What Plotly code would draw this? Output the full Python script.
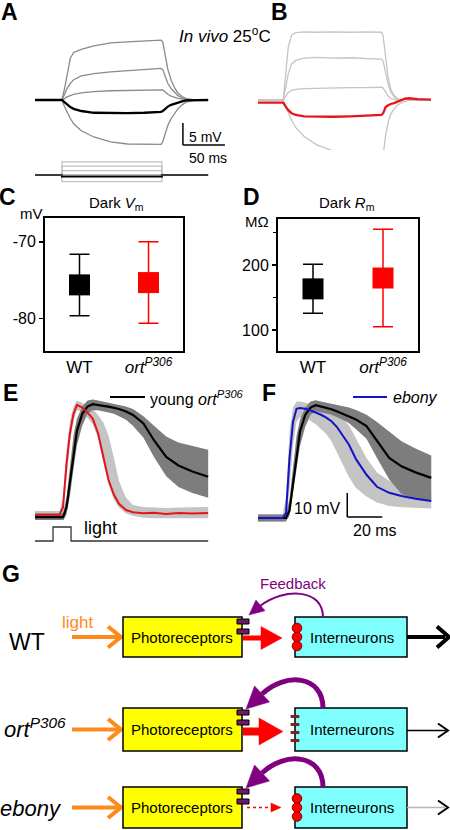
import math
import plotly.graph_objects as go

W, H = 450, 830
FONT = "Arial, Liberation Sans, Helvetica, sans-serif"

# ---------------- data ----------------
# Panel A (mV vs ms), WT
tA = [0, 30, 32, 35, 38, 42, 46, 55, 70, 90, 110, 130, 150, 152, 155, 158, 162, 166, 170, 175, 180, 190, 206]
a_top = [0, 0, 0, 2.5, 5.5, 9.5, 10.8, 11.5, 12.3, 13.0, 13.2, 13.4, 13.6, 13.2, 10.0, 7.0, 4.5, 2.8, 1.6, 0.8, 0.3, 0, 0]
a_mid = [0, 0, 0, 1.2, 2.6, 3.8, 4.6, 5.5, 6.0, 6.4, 6.7, 7.0, 7.2, 6.9, 5.2, 3.8, 2.6, 1.7, 1.0, 0.5, 0.2, 0, 0]
a_low = [0, 0, 0, 0.3, 0.7, 1.0, 1.3, 1.6, 1.9, 2.1, 2.2, 2.3, 2.4, 2.3, 1.8, 1.3, 0.9, 0.6, 0.35, 0.2, 0.1, 0, 0]
a_wt = [0, 0, 0, -0.5, -1.0, -1.6, -2.0, -2.5, -2.9, -3.0, -3.0, -2.9, -2.7, -2.5, -2.0, -1.5, -1.1, -0.8, -0.5, -0.3, -0.1, 0, 0]
a_hyp = [0, 0, 0, -1.5, -2.8, -4.2, -5.4, -7.0, -8.4, -9.5, -10.0, -10.1, -10.1, -9.5, -7.5, -5.8, -4.2, -3.0, -2.0, -1.1, -0.5, -0.1, 0]

# current-step protocol (pA)
stim_t = [0, 32, 32, 151, 151, 206]
stim_levels = [60, 40, 20, -30, -7]

# Panel B (mV vs ms), ort P306
tB = [0, 28, 30, 33, 36, 40, 45, 55, 70, 90, 110, 130, 147, 149, 152, 155, 158, 162, 166, 170, 175, 180, 190, 206]
b_top = [0, 0, 0, 6, 12, 14.8, 15.3, 15.5, 15.4, 15.5, 15.4, 15.5, 15.4, 14.5, 10, 5, 2.5, 1.0, 0.4, 0, 0.3, 0.2, 0.1, 0]
b_mid = [0, 0, 0, 3, 6, 8.2, 9.0, 9.5, 9.7, 9.5, 9.6, 9.4, 9.3, 8.8, 6.2, 3.5, 1.8, 0.7, 0.2, 0, 0.2, 0.1, 0, 0]
b_low = [0, 0, 0, 0.8, 1.7, 2.2, 2.4, 2.6, 2.7, 2.7, 2.8, 2.8, 2.9, 2.7, 1.8, 0.9, 0.4, 0.1, 0, 0, 0.2, 0.1, 0, 0]
b_ort = [-0.6, -0.5, -0.6, -1.5, -2.3, -3.0, -3.4, -3.7, -3.8, -3.8, -3.7, -3.6, -3.4, -3.0, -1.6, -1.2, -0.9, -0.7, -0.4, 0, 0.3, 0.4, 0.2, 0.1]
b_hyp = [0, 0, 0, -1.5, -3.0, -4.6, -6.3, -8.3, -10.2, -11.6, -12.4, -12.8, -12.9, -12.5, -8.0, -5.0, -3.2, -2.0, -1.2, -0.7, -0.3, -0.1, 0, 0]

# Panels C, D
groups = [0, 1]
group_labels = ["WT", "<i>ort<sup>P306</sup></i>"]
vm_mean = [-75.6, -75.3]
vm_sd = [4.0, 5.3]
rm_mean = [163.3, 180.0]
rm_sd = [37.7, 75.0]

# Panel E / F (mV vs ms)
tE = [0, 14, 16, 18, 20, 22, 24, 27, 30, 33, 36, 39, 42, 45, 48, 52, 56, 62, 68, 75, 82, 90, 99]
e_ort = [1.0, 1.0, 4, 22, 35, 43, 46.7, 45.6, 43.5, 41, 35, 25, 15.5, 9.5, 5.5, 2.9, 2.0, 1.6, 1.8, 1.3, 1.7, 1.5, 1.7]
e_ort_hi = [2.5, 2.5, 8, 28, 40, 46, 48.5, 47.5, 46.5, 45, 42.5, 39.5, 34, 25, 15, 8, 5, 4.2, 4, 3.8, 4, 4, 4.2]
e_ort_lo = [-0.8, -0.8, 1, 16, 31, 40, 44.5, 44, 41.5, 38.5, 33, 23, 13.5, 7.5, 4, 1.5, 0.5, -0.3, -0.5, -0.8, -0.5, -0.5, -0.5]
e_wt = [0, 0, 0, 4, 15, 27, 36, 43, 46, 47, 46.8, 46.3, 46, 45.5, 45, 44, 42.5, 39, 32, 25, 21.5, 19, 16.8]
e_wt_hi = [1.5, 1.5, 1.5, 8, 22, 34, 41, 46, 48.5, 49, 48.5, 48, 47.5, 47, 46.5, 46, 45, 42, 38, 33.5, 31, 29.5, 28]
e_wt_lo = [-1.5, -1.5, -1.5, 1, 9, 20, 30, 38, 43, 44.5, 44.5, 44, 43.5, 43, 42, 40.5, 38, 33, 25, 17, 12.5, 10, 8]

f_ebony = [0, 0, 2, 25, 40, 45.5, 45.8, 45.5, 44.8, 44, 43, 41.8, 40.3, 38, 35, 30.5, 24.5, 18, 13, 10.5, 9.2, 8, 7.1]
f_ebony_hi = [1.5, 1.5, 8, 36, 46, 48.5, 48.5, 48, 47.5, 47, 46.5, 45.5, 44.5, 43, 41.5, 38.5, 33, 25, 19, 15.5, 13.5, 12.5, 11.5]
f_ebony_lo = [-1.5, -1.5, -1, 12, 30, 40, 42, 41.5, 40.5, 39, 37, 35, 32, 28, 23, 17, 12.5, 9, 6.5, 5, 4.5, 4.2, 4]
f_wt = [0, 0, 0, 3, 14, 27, 36, 43, 46, 47, 46.5, 46, 45.3, 44.5, 43.5, 42.3, 41, 38.3, 32, 25, 21.5, 19, 16.7]
f_wt_hi = [1.5, 1.5, 1.5, 8, 22, 34, 41, 46, 48.5, 49, 48.5, 48, 47.5, 47, 46.5, 46, 45, 43, 40, 36, 32, 29, 26]
f_wt_lo = [-1.5, -1.5, -1.5, 1, 9, 20, 30, 38, 43, 44.5, 44, 43.5, 43, 42, 41, 39.5, 37, 33, 25, 16, 10, 8, 7]

light_t = [0, 10.3, 10.3, 20.6, 20.6, 99]
light_on = [0, 0, 1, 1, 0, 0]

# ---------------- helpers ----------------
def X(px):
    return px / W


def Y(py):
    return 1 - py / H


def dx(a, b):
    return [a / W, b / W]


def dy(top, bottom):
    return [1 - bottom / H, 1 - top / H]


GREY_A = "#8a8a8a"
GREY_B = "#c4c4c4"
RED = "#e8141c"
BLUE = "#1212c8"
PURPLE = "#800080"
ORANGE = "#ff8a1c"

fig = go.Figure()


def line(x, y, xa, ya, color, width, dash=None):
    fig.add_trace(go.Scatter(x=x, y=y, xaxis=xa, yaxis=ya, mode="lines",
                             line=dict(color=color, width=width, dash=dash),
                             showlegend=False, hoverinfo="skip"))


def band(t, hi, lo, xa, ya, color):
    fig.add_trace(go.Scatter(x=list(t) + list(t)[::-1], y=list(hi) + list(lo)[::-1],
                             xaxis=xa, yaxis=ya, mode="lines", fill="toself",
                             fillcolor=color, line=dict(width=0, color=color),
                             showlegend=False, hoverinfo="skip"))


# Panel A
for v in (a_top, a_mid, a_low, a_hyp):
    line(tA, v, "x", "y", GREY_A, 1.3)
line(tA, a_wt, "x", "y", "black", 2.3)
for lv in stim_levels:
    col = "black" if lv == stim_levels[-1] else "#c0c0c0"
    line(stim_t, [0, 0, lv, lv, 0, 0], "x", "y2", col, 1.2 if col != "black" else 2.0)
line([stim_t[0], stim_t[-1]], [0, 0], "x", "y2", "#777777", 1.2)

# Panel B
for v in (b_top, b_mid, b_low, b_hyp):
    line(tB, v, "x3", "y3", GREY_B, 1.3)
line(tB, b_ort, "x3", "y3", RED, 2.3)

# Panel C, D
for xa, ya, means, sds in (("x4", "y4", vm_mean, vm_sd), ("x5", "y5", rm_mean, rm_sd)):
    for g, col in zip(groups, ["black", "#ff0000"]):
        fig.add_trace(go.Scatter(
            x=[g], y=[means[g]], xaxis=xa, yaxis=ya, mode="markers",
            marker=dict(symbol="square", size=21, color=col, line=dict(width=0)),
            error_y=dict(type="data", array=[sds[g]], color=col, thickness=1.5, width=10),
            showlegend=False, hoverinfo="skip"))

# Panel E
band(tE, e_ort_hi, e_ort_lo, "x6", "y6", "#c4c4c4")
band(tE, e_wt_hi, e_wt_lo, "x6", "y6", "#7d7d7d")
line(tE, e_wt, "x6", "y6", "black", 2.2)
line(tE, e_ort, "x6", "y6", RED, 2.0)
line(light_t, light_on, "x6", "y8", "#333333", 1.3)

# Panel F
band(tE, f_ebony_hi, f_ebony_lo, "x7", "y7", "#c4c4c4")
band(tE, f_wt_hi, f_wt_lo, "x7", "y7", "#7d7d7d")
line(tE, f_wt, "x7", "y7", "black", 2.2)
line(tE, f_ebony, "x7", "y7", BLUE, 2.0)

hidden = dict(visible=False, showgrid=False, zeroline=False, fixedrange=True)
box_y = dict(showline=True, mirror=True, linewidth=2, linecolor="black", ticks="outside",
             ticklen=4, tickwidth=1.5, tickcolor="black", showgrid=False, zeroline=False,
             tickfont=dict(family=FONT, size=16, color="black"))
box_x = dict(showline=True, mirror=True, linewidth=2, linecolor="black", ticks="",
             showgrid=False, zeroline=False, range=[-0.5, 1.5], tickvals=groups,
             ticktext=group_labels, tickfont=dict(family=FONT, size=17, color="black"))

fig.update_layout(
    width=W, height=H, autosize=False,
    margin=dict(l=0, r=0, t=0, b=0),
    paper_bgcolor="white", plot_bgcolor="white",
    showlegend=False,
    xaxis=dict(domain=dx(20, 235), range=[-17.9, 238], **hidden),
    yaxis=dict(domain=dy(10, 150), range=[-11.36, 20.45], anchor="x", **hidden),
    yaxis2=dict(domain=dy(155, 185), range=[-45.5, 90.9], anchor="x", **hidden),
    xaxis3=dict(domain=dx(243, 450), range=[-17.9, 228.6], anchor="y3", **hidden),
    yaxis3=dict(domain=dy(10, 150), range=[-11.36, 20.45], anchor="x3", **hidden),
    xaxis4=dict(domain=dx(45, 183), anchor="y4", **box_x),
    yaxis4=dict(domain=dy(218, 351), range=[-84.2, -66.9], anchor="x4",
                tickvals=[-70, -80], ticktext=["-70", "-80"], **box_y),
    xaxis5=dict(domain=dx(278, 418), anchor="y5", **box_x),
    yaxis5=dict(domain=dy(219, 351), range=[67.7, 270.8], anchor="x5",
                tickvals=[100, 200],
                minor=dict(tickvals=[150, 250], ticks="outside", ticklen=3, tickcolor="black"),
                **box_y),
    xaxis6=dict(domain=dx(30, 215), range=[-2.86, 102.9], anchor="y6", **hidden),
    yaxis6=dict(domain=dy(385, 548), range=[-12.9, 55], anchor="x6", **hidden),
    yaxis8=dict(domain=dy(520, 545), range=[-0.286, 1.5], anchor="x6", **hidden),
    xaxis7=dict(domain=dx(250, 440), range=[-4.57, 104], anchor="y7", **hidden),
    yaxis7=dict(domain=dy(385, 548), range=[-12.5, 55.4], anchor="x7", **hidden),
)

shapes = []
ann = []


def txt(x, y, s, size, color="black", xanchor="center", bold=False):
    if bold:
        s = "<b>" + s + "</b>"
    ann.append(dict(x=X(x), y=Y(y), xref="paper", yref="paper", text=s, showarrow=False,
                    font=dict(family=FONT, size=size, color=color),
                    xanchor=xanchor, yanchor="middle"))


def pline(x0, y0, x1, y1, color, width, dash=None):
    shapes.append(dict(type="line", xref="paper", yref="paper", x0=X(x0), y0=Y(y0),
                       x1=X(x1), y1=Y(y1), line=dict(color=color, width=width, dash=dash)))


def prect(x0, y0, x1, y1, fill, lc="black", lw=1.5):
    shapes.append(dict(type="rect", xref="paper", yref="paper", x0=X(x0), x1=X(x1),
                       y0=Y(y1), y1=Y(y0), fillcolor=fill, line=dict(color=lc, width=lw)))


def pcirc(cx, cy, r, fill, lc):
    shapes.append(dict(type="circle", xref="paper", yref="paper", x0=X(cx - r), x1=X(cx + r),
                       y0=Y(cy + r), y1=Y(cy - r), fillcolor=fill, line=dict(color=lc, width=1)))


def ppoly(pts, color, width, fill=None, closed=False):
    p = "M " + " L ".join(f"{X(a)},{Y(b)}" for a, b in pts) + (" Z" if closed else "")
    d = dict(type="path", xref="paper", yref="paper", path=p,
             line=dict(color=color, width=width))
    if fill:
        d["fillcolor"] = fill
    shapes.append(d)


def pcurve(pts, color, width):
    (x0, y0), (c1x, c1y), (c2x, c2y), (x1, y1) = pts
    p = f"M {X(x0)},{Y(y0)} C {X(c1x)},{Y(c1y)} {X(c2x)},{Y(c2y)} {X(x1)},{Y(y1)}"
    shapes.append(dict(type="path", xref="paper", yref="paper", path=p,
                       line=dict(color=color, width=width)))


def head(xt, yt, xs, ys, L, Hh, color, kind="tri", width=1):
    ux, uy = xt - xs, yt - ys
    n = math.hypot(ux, uy)
    ux, uy = ux / n, uy / n
    bx, by = xt - L * ux, yt - L * uy
    nx, ny = -uy, ux
    p1 = (bx + nx * Hh / 2, by + ny * Hh / 2)
    p2 = (bx - nx * Hh / 2, by - ny * Hh / 2)
    if kind == "tri":
        ppoly([p1, (xt, yt), p2], color, 0.5, fill=color, closed=True)
    else:
        ppoly([p1, (xt, yt), p2], color, width)


# scale bars (data coordinates)
shapes.append(dict(type="line", xref="x", yref="y", x0=176, x1=176, y0=-10.2, y1=-5.2,
                   line=dict(color="black", width=1.5)))
shapes.append(dict(type="line", xref="x", yref="y", x0=176, x1=226, y0=-10.2, y1=-10.2,
                   line=dict(color="black", width=1.5)))
shapes.append(dict(type="line", xref="x7", yref="y7", x0=51, x1=51, y0=0.4, y1=10.4,
                   line=dict(color="black", width=1.5)))
shapes.append(dict(type="line", xref="x7", yref="y7", x0=51, x1=71, y0=0.4, y1=0.4,
                   line=dict(color="black", width=1.5)))

# text for top panels
txt(9, 12, "A", 23, bold=True)
txt(279, 12, "B", 23, bold=True)
txt(177, 35, "<i>In vivo</i> 25<sup>o</sup>C", 17, xanchor="left")
txt(187, 137, "5 mV", 14, xanchor="left")
txt(208, 158, "50 ms", 14)

txt(7, 197, "C", 23, bold=True)
txt(251, 197, "D", 23, bold=True)
txt(116, 203, "Dark <i>V</i><sub>m</sub>", 15)
txt(347, 203, "Dark <i>R</i><sub>m</sub>", 15)
txt(31, 214, "mV", 15)
txt(257, 221, "M\u03a9", 15)

txt(10, 393, "E", 23, bold=True)
txt(269, 393, "F", 23, bold=True)
pline(110, 397, 145, 397, "black", 2)
txt(148, 398, "young <i>ort<sup>P306</sup></i>", 16, xanchor="left")
pline(353, 397, 387, 397, BLUE, 2)
txt(391, 397, "<i>ebony</i>", 16, xanchor="left")
txt(100, 528, "light", 18)
txt(343, 508, "10 mV", 16, xanchor="right")
txt(375, 530, "20 ms", 16)

# Panel G
txt(11, 574, "G", 23, bold=True)
rows = [dict(top=617, bot=657), dict(top=708, bot=751), dict(top=787, bot=828)]
txt(27, 642, "WT", 23)
txt(35, 728, "<i>ort<sup>P306</sup></i>", 22)
txt(31, 808, "<i>ebony</i>", 22)
txt(293, 583, "Feedback", 15, color=PURPLE)
txt(77, 622, "light", 17, color=ORANGE)

for i, r in enumerate(rows):
    top, bot = r["top"], r["bot"]
    cy = (top + bot) / 2
    # light arrow
    pline(72, cy, 118, cy, ORANGE, 4)
    head(121, cy, 72, cy, 13, 21, ORANGE, "chev", 4)
    prect(123, top, 242, bot, "#ffff00")
    prect(295, top, 407, bot, "#80ffff")
    txt(182, cy, "Photoreceptors", 15)
    txt(352, cy, "Interneurons", 15)
    # purple receptors on photoreceptor
    prect(237, top + 2, 249, top + 7, "#6a1b6a", "black", 1)
    prect(237, top + 12, 249, top + 17, "#6a1b6a", "black", 1)
    # feedback arcs
    if i == 0:
        pcurve([(323, top), (323, top - 28), (285, top - 30), (260, top - 11)], PURPLE, 2)
        head(249, top - 2, 262, top - 13, 15, 14, PURPLE)
    else:
        pcurve([(323, top), (323, top - 33), (285, top - 36), (262, top - 14)], PURPLE, 5)
        head(246, top + 1, 262, top - 14, 22, 22, PURPLE)
    # forward synapse
    if i == 0:
        pline(243, cy + 1, 264, cy + 1, "#ff0000", 5)
        head(282, cy + 1, 243, cy + 1, 21, 23, "#ff0000")
        for k in (-9, 0, 9):
            pcirc(297, cy + k, 4.8, "#ff0000", "#800000")
        pline(407, cy, 445, cy, "black", 4)
        head(449, cy, 407, cy, 12, 21, "black", "chev", 4)
    elif i == 1:
        pline(243, cy + 2, 263, cy + 2, "#ff0000", 8)
        head(283, cy + 2, 243, cy + 2, 24, 27, "#ff0000")
        for k in (-13, -5, 3, 11):
            prect(291, cy + k - 1, 299, cy + k + 1, "#a02020", "#601010", 0.8)
        pline(407, cy + 1, 446, cy + 1, "black", 1.5)
        head(448, cy + 1, 407, cy + 1, 10, 14, "black", "chev", 2)
    else:
        pline(247, cy, 272, cy, "#ff0000", 1.5, "dot")
        head(281, cy, 247, cy, 10, 9, "#ff0000")
        for k in (-9, 0, 9):
            pcirc(297, cy + k, 4.8, "#ff0000", "#800000")
        pline(407, cy, 445, cy, "#b5b5b5", 1.5)
        head(448, cy, 407, cy, 10, 14, "black", "chev", 2)

fig.update_layout(shapes=shapes, annotations=ann)
fig.write_html("out.html", config={"displayModeBar": False, "staticPlot": True},
               post_script="document.body.style.margin='0px';")
